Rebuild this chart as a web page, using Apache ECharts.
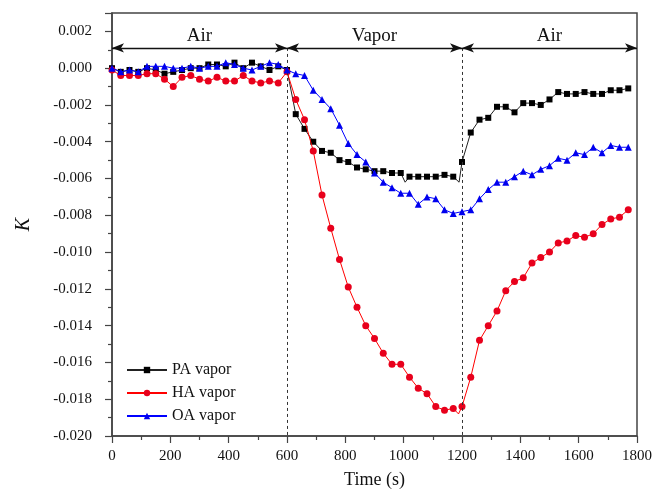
<!DOCTYPE html>
<html><head><meta charset="utf-8">
<script src="https://cdn.jsdelivr.net/npm/echarts@6/dist/echarts.min.js"></script>
<style>html,body{margin:0;padding:0;background:#fff}#c{width:655px;height:502px}</style>
</head><body><div id="c"></div>
<script>
const times = [];
for (let i = 0; i < 60; i++) times.push(i * 30);
const paValues = [0.0000,-0.0002,-0.0001,-0.0002,0.0000,-0.0001,-0.0003,-0.0002,-0.0001,0.0000,
 0.0000,0.0002,0.0002,0.0001,0.0003,0.0000,0.0003,0.0001,-0.0001,0.0001,
 -0.0001,-0.0025,-0.0033,-0.0040,-0.0045,-0.0046,-0.0050,-0.0051,-0.0054,-0.0055,
 -0.0056,-0.0056,-0.0057,-0.0057,-0.0059,-0.0059,-0.0059,-0.0059,-0.0058,-0.0059,
 -0.0051,-0.0035,-0.0028,-0.0027,-0.0021,-0.0021,-0.0024,-0.0019,-0.0019,-0.0020,
 -0.0017,-0.0013,-0.0014,-0.0014,-0.0013,-0.0014,-0.0014,-0.0012,-0.0012,-0.0011];
const haValues = [-0.0001,-0.0004,-0.0004,-0.0004,-0.0003,-0.0003,-0.0006,-0.0010,-0.0005,-0.0004,
 -0.0006,-0.0007,-0.0005,-0.0007,-0.0007,-0.0004,-0.0007,-0.0008,-0.0007,-0.0008,
 -0.0002,-0.0017,-0.0028,-0.0045,-0.0069,-0.0087,-0.0104,-0.0119,-0.0130,-0.0140,
 -0.0147,-0.0155,-0.0161,-0.0161,-0.0168,-0.0174,-0.0177,-0.0184,-0.0186,-0.0185,
 -0.0184,-0.0168,-0.0148,-0.0140,-0.0132,-0.0121,-0.0116,-0.0114,-0.0106,-0.0103,
 -0.0100,-0.0095,-0.0094,-0.0091,-0.0092,-0.0090,-0.0085,-0.0082,-0.0081,-0.0077];
const oaValues = [0.0000,-0.0002,-0.0001,-0.0002,0.0001,0.0001,0.0001,0.0000,0.0000,0.0001,
 0.0000,0.0001,0.0001,0.0003,0.0002,0.0000,-0.0001,0.0001,0.0003,0.0002,
 -0.0001,-0.0003,-0.0004,-0.0012,-0.0017,-0.0022,-0.0031,-0.0041,-0.0047,-0.0051,
 -0.0057,-0.0062,-0.0065,-0.0068,-0.0068,-0.0074,-0.0070,-0.0071,-0.0077,-0.0079,
 -0.0078,-0.0077,-0.0071,-0.0066,-0.0062,-0.0062,-0.0059,-0.0056,-0.0058,-0.0055,
 -0.0053,-0.0049,-0.0050,-0.0046,-0.0047,-0.0043,-0.0046,-0.0042,-0.0043,-0.0043];
// extra line vertices between markers (no symbol)
const paExtraT = [1005, 1190];
const paExtraV = [-0.0062, -0.0062];
const haExtraT = [1188];
const haExtraV = [-0.0188];
const seriesNames = ['PA vapor', 'HA vapor', 'OA vapor'];
const phaseLabels = ['Air', 'Vapor', 'Air'];
const phaseBounds = [0, 600, 1200, 1800];
const arrowLevel = 0.0011;

function build(vals, exT, exV) {
  const pts = times.map((t, i) => ({ value: [t, vals[i]] }));
  (exT || []).forEach((t, i) => pts.push({ value: [t, exV[i]], symbol: 'none' }));
  pts.sort((a, b) => a.value[0] - b.value[0]);
  return pts;
}
const FONT = 'Liberation Serif';
const chart = echarts.init(document.getElementById('c'), null, { renderer: 'canvas' });

const arrowLines = [];
for (let i = 0; i < 3; i++) {
  arrowLines.push([
    { coord: [phaseBounds[i], arrowLevel], name: phaseLabels[i] },
    { coord: [phaseBounds[i + 1], arrowLevel] }
  ]);
}
const dashLines = [600, 1200].map(x => [
  { coord: [x, arrowLevel] }, { coord: [x, -0.02] }
]);

chart.setOption({
  animation: false,
  backgroundColor: '#fff',
  textStyle: { fontFamily: FONT },
  grid: { left: 112, right: 18, top: 13, bottom: 66, show: true, borderColor: '#444', borderWidth: 1.5 },
  legend: {
    orient: 'vertical', left: 121, top: 357, itemWidth: 40, itemHeight: 8, itemGap: 7,
    textStyle: { fontFamily: FONT, fontSize: 16, color: '#111' },
    data: seriesNames
  },
  xAxis: {
    type: 'value', min: 0, max: 1800, interval: 200,
    name: 'Time (s)', nameLocation: 'middle', nameGap: 35,
    nameTextStyle: { fontFamily: FONT, fontSize: 18, color: '#111' },
    axisLine: { onZero: false, lineStyle: { color: '#444', width: 1.5 } },
    axisTick: { show: true, inside: false, length: 7, lineStyle: { color: '#444', width: 1.2 } },
    minorTick: { show: true, splitNumber: 2, length: 4, lineStyle: { color: '#444', width: 1.2 } },
    axisLabel: { fontFamily: FONT, fontSize: 15, color: '#111', margin: 13,
      formatter: v => String(Math.round(v)) },
    splitLine: { show: false }
  },
  yAxis: {
    type: 'value', min: -0.02, max: 0.003, interval: 0.002,
    name: 'K', nameLocation: 'middle', nameGap: 78, nameRotate: 90,
    nameTextStyle: { fontFamily: FONT, fontSize: 20, fontStyle: 'italic', color: '#111' },
    axisLine: { lineStyle: { color: '#444', width: 1.5 } },
    axisTick: { show: true, inside: false, length: 7, lineStyle: { color: '#444', width: 1.2 } },
    minorTick: { show: true, splitNumber: 2, length: 4, lineStyle: { color: '#444', width: 1.2 } },
    axisLabel: { fontFamily: FONT, fontSize: 15, color: '#111', margin: 20, showMaxLabel: false,
      formatter: v => (Math.abs(v) < 1e-9 ? 0 : v).toFixed(3) },
    splitLine: { show: false }
  },
  series: [
    {
      name: seriesNames[0], type: 'line', data: build(paValues, paExtraT, paExtraV),
      symbol: 'rect', symbolSize: 6, showAllSymbol: true,
      lineStyle: { color: '#222', width: 1 }, itemStyle: { color: '#000' },
      markLine: {
        silent: true, symbol: ['none', 'none'],
        lineStyle: { color: '#333', type: [3, 3], width: 1 },
        label: { show: false },
        data: dashLines
      },
      z: 3
    },
    {
      name: seriesNames[1], type: 'line', data: build(haValues, haExtraT, haExtraV),
      symbol: 'circle', symbolSize: 7, showAllSymbol: true,
      lineStyle: { color: '#f00', width: 1 }, itemStyle: { color: '#e8001c' },
      markLine: {
        silent: true, symbol: ['arrow', 'arrow'], symbolSize: [7, 12],
        lineStyle: { color: '#111', type: 'solid', width: 1.3 },
        label: { show: true, position: 'insideMiddleTop', distance: 2, formatter: p => p.name,
          fontFamily: FONT, fontSize: 19, color: '#111' },
        data: arrowLines
      },
      z: 4
    },
    {
      name: seriesNames[2], type: 'line', data: build(oaValues),
      symbol: 'triangle', symbolSize: 7, showAllSymbol: true,
      lineStyle: { color: '#00f', width: 1 }, itemStyle: { color: '#0000ee' },
      z: 5
    }
  ]
});
</script></body></html>
